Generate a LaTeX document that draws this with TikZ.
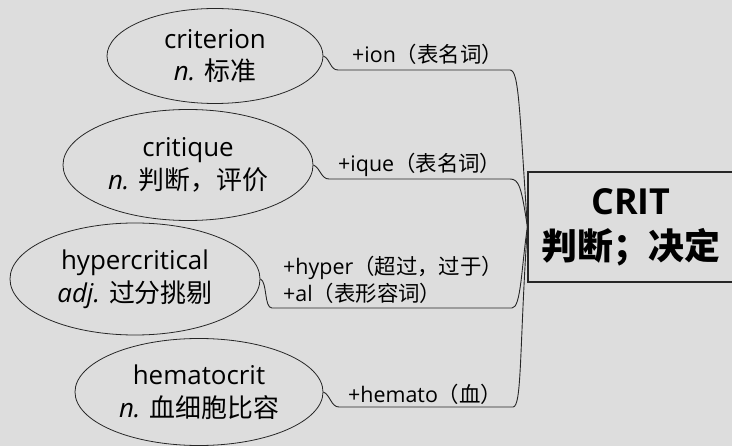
\documentclass[tikz,border=0pt]{standalone}
\usepackage{fontspec}
\setmainfont{Open Sans}
\newfontfamily\cjk{Noto Sans CJK SC}
\usepackage{tikz}
\usetikzlibrary{positioning,shapes.geometric,calc}
\definecolor{RTInk}{HTML}{262626}
\definecolor{RTPaper}{HTML}{DDDDDD}
\tikzset{
  rtword/.style={
    ellipse,
    draw=RTInk,
    line width=0.8pt,
    fill=RTPaper,
    align=center,
    inner sep=0pt,
    font=\fontsize{26}{33}\selectfont
  },
  rtroot/.style={
    rectangle,
    draw=RTInk,
    line width=1.2pt,
    fill=RTPaper,
    align=center,
    inner sep=0pt,
    minimum width=206bp,
    minimum height=110bp,
    font=\bfseries\fontsize{36}{45}\selectfont
  },
  rtnote/.style={anchor=base west,inner sep=0pt,align=left,font=\fontsize{21.5}{28}\selectfont},
  rtlink/.style={draw=RTInk,line width=0.9pt},
}
\begin{document}
\begin{tikzpicture}[x=1bp,y=-1bp]
  \fill[RTPaper] (0,0) rectangle (732,446);
  \useasboundingbox (0,0) rectangle (732,446);

  \node[rtroot] (crit) at (631,227) {CRIT\\{\cjk 判断；决定}};

  \node[rtword,minimum width=216bp,minimum height=95bp] (criterion) at (215,56)
    {criterion\\\textit{n.} {\cjk 标准}};
  \node[rtword,minimum width=250bp,minimum height=111bp] (critique) at (188,165)
    {critique\\\textit{n.} {\cjk 判断，评价}};
  \node[rtword,minimum width=250bp,minimum height=112bp] (hyper) at (135,279)
    {hypercritical\\\textit{adj.} {\cjk 过分挑剔}};
  \node[rtword,minimum width=248bp,minimum height=107bp] (hemato) at (199,392)
    {hematocrit\\\textit{n.} {\cjk 血细胞比容}};

  % affix notes
  \node[rtnote] (ion) at (352,63) {+ion{\cjk （表名词）}};
  \node[rtnote] (ique) at (338,172) {+ique{\cjk （表名词）}};
  \node[rtnote] (hyperal) at (283,302) {+hyper{\cjk （超过，过于）}\\+al{\cjk （表形容词）}};
  \node[rtnote] (hem) at (348,402) {+hemato{\cjk （血）}};

  % underline ends
  \coordinate (ionA) at (338,70);   \coordinate (ionB) at (510,70);
  \coordinate (iqueA) at (329,179); \coordinate (iqueB) at (510,179);
  \coordinate (hypA) at (272,308);  \coordinate (hypB) at (512,308);
  \coordinate (hemA) at (339,407);  \coordinate (hemB) at (513,407);

  \draw[rtlink] (criterion.east) .. controls +(7,3) and +(-8,0) .. (ionA) -- (ionB)
    .. controls +(9,0) and +(-8,-117) .. (crit.west);
  \draw[rtlink] (critique.east) .. controls +(7,3) and +(-8,0) .. (iqueA) -- (iqueB)
    .. controls +(9,0) and +(-6,-40) .. (crit.west);
  \draw[rtlink] (hyper.east) .. controls +(7,3) and +(-8,0) .. (hypA) -- (hypB)
    .. controls +(9,0) and +(-6,40) .. (crit.west);
  \draw[rtlink] (hemato.east) .. controls +(7,3) and +(-8,0) .. (hemA) -- (hemB)
    .. controls +(9,0) and +(-8,120) .. (crit.west);
\end{tikzpicture}
\end{document}
